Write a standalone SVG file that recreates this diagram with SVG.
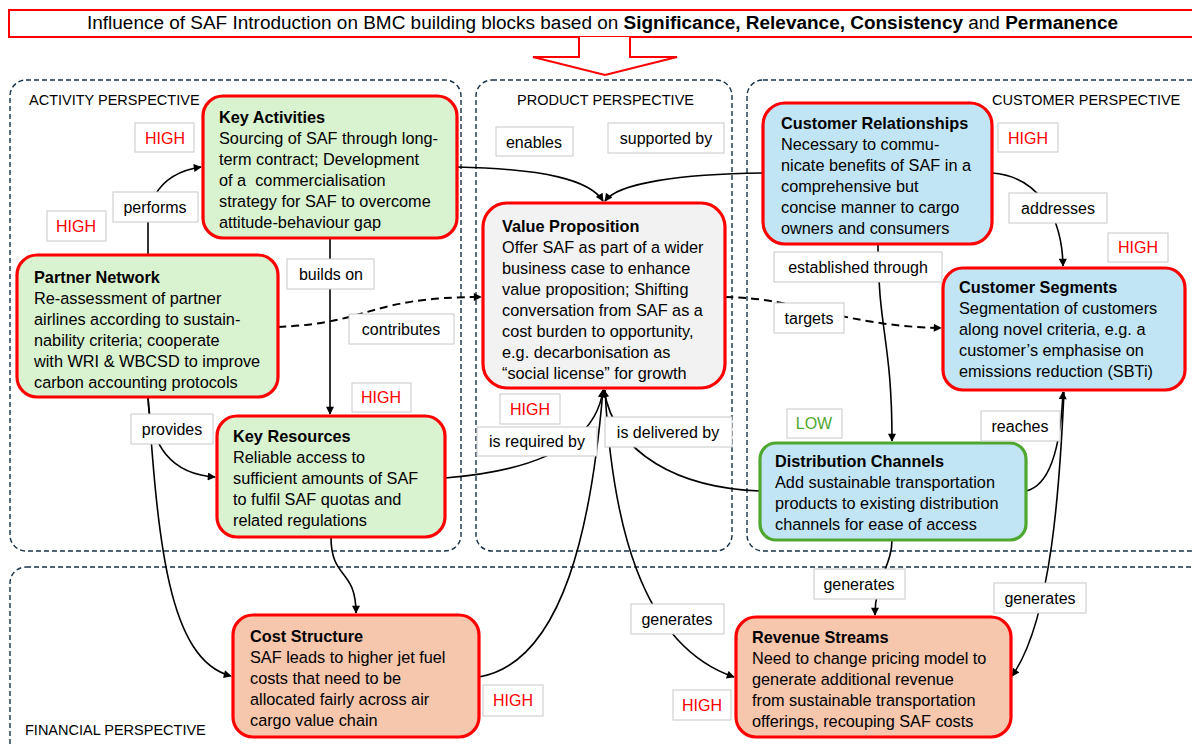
<svg xmlns="http://www.w3.org/2000/svg" width="1192" height="747" viewBox="0 0 1192 747">
<defs>
<marker id="ah" viewBox="0 0 10 10" refX="9" refY="5" markerWidth="9" markerHeight="8" markerUnits="userSpaceOnUse" orient="auto"><path d="M0,0 L10,5 L0,10 z" fill="#000"/></marker>
<style>
.persp{fill:none;stroke:#17324a;stroke-width:1.4;stroke-dasharray:5,3}
.ptxt{font-family:"Liberation Sans",Arial,sans-serif;font-size:14.5px;fill:#000}
.node{stroke:#ff0000;stroke-width:3.2}
.green{fill:#d9f2d0}
.blue{fill:#c1e5f5}
.gray{fill:#f2f2f2}
.orange{fill:#f6c6ad}
.ntxt{font-family:"Liberation Sans",Arial,sans-serif;font-size:16.3px;fill:#000}
.ntxt .t{font-weight:bold}
.conn{fill:none;stroke:#000;stroke-width:1.6;marker-end:url(#ah)}
.plain{fill:none;stroke:#000;stroke-width:1.6}
.dash{stroke-dasharray:8,5;stroke-width:2}
.lbl rect{fill:#fff;stroke:#c8c8c8;stroke-width:1}
.lbl text{font-family:"Liberation Sans",Arial,sans-serif;font-size:16px;fill:#000;text-anchor:middle}
.lbl text.hi{fill:#ff0000}
.lbl text.lo{fill:#4ea72e}
</style>
</defs>
<rect width="1192" height="747" fill="#fff"/>

<g id="title">
<rect x="9" y="10" width="1200" height="27" fill="#fff" stroke="#ff0000" stroke-width="2"/>
<path d="M579,37 L579,57 L533,57 L605,75 L677,57 L630,57 L630,37" fill="#fff" stroke="#ff0000" stroke-width="2"/>
<text x="87" y="29" font-family="'Liberation Sans',Arial,sans-serif" font-size="18" textLength="1031" lengthAdjust="spacingAndGlyphs">Influence of SAF Introduction on BMC building blocks based on <tspan font-weight="bold">Significance, Relevance, Consistency</tspan> and <tspan font-weight="bold">Permanence</tspan></text>
</g>

<g id="perspectives">
<rect class="persp" x="10" y="80" width="451" height="471" rx="16"/>
<rect class="persp" x="476" y="80" width="256" height="471" rx="16"/>
<rect class="persp" x="747" y="80" width="470" height="471" rx="16"/>
<rect class="persp" x="10" y="567" width="1207" height="200" rx="16"/>
<text class="ptxt" x="29" y="105">ACTIVITY PERSPECTIVE</text>
<text class="ptxt" x="517" y="105">PRODUCT PERSPECTIVE</text>
<text class="ptxt" x="992" y="105">CUSTOMER PERSPECTIVE</text>
<text class="ptxt" x="25" y="735">FINANCIAL PERSPECTIVE</text>
</g>

<g id="connectors">
<path class="plain" d="M148,255 L148,222"/>
<path class="conn" d="M155,195 C165,178 180,170 201,167"/>
<path class="plain" d="M155,222 C155,210 155,200 155,195"/>
<path class="conn" d="M330,238 L330,414"/>
<path class="conn dash" d="M278,327 C372,323 368,297 481,297"/>
<path class="conn" d="M148,397 C150,445 170,474 215,477"/>
<path class="conn" d="M148,397 C158,540 168,660 231,676"/>
<path class="conn" d="M457,167 C545,169 590,180 603,201"/>
<path class="conn" d="M763,173 C680,174 618,183 605,201"/>
<path class="conn" d="M445,478 C545,470 596,440 603,390"/>
<path class="conn" d="M479,677 C565,662 592,520 603,390"/>
<path class="conn" d="M760,491 C680,488 615,455 604,390"/>
<path class="conn" d="M605,390 C612,520 640,645 734,677"/>
<path class="conn" d="M878,244 C878,330 892,340 892,441"/>
<path class="conn dash" d="M725,297 C800,298 842,326 941,328"/>
<path class="conn" d="M992,173 C1035,176 1062,212 1063,266"/>
<path class="conn" d="M1026,491 C1052,485 1061,440 1063,392"/>
<path class="conn" d="M1064,392 C1060,480 1052,620 1012,676"/>
<path class="conn" d="M892,540 C892,565 875,580 875,615"/>
<path class="conn" d="M331,537 C331,580 356,568 356,613"/>
</g>

<g id="key-activities">
<rect class="node green" x="203" y="96" width="254" height="142" rx="20"/>
<text class="ntxt" x="219" y="123"><tspan class="t">Key Activities</tspan><tspan x="219" dy="21">Sourcing of SAF through long-</tspan><tspan x="219" dy="21">term contract; Development</tspan><tspan x="219" dy="21">of a&#160; commercialisation</tspan><tspan x="219" dy="21">strategy for SAF to overcome</tspan><tspan x="219" dy="21">attitude-behaviour gap</tspan></text>
</g>

<g id="partner-network">
<rect class="node green" x="17" y="255" width="261" height="142" rx="20"/>
<text class="ntxt" x="34" y="283"><tspan class="t">Partner Network</tspan><tspan x="34" dy="21">Re-assessment of partner</tspan><tspan x="34" dy="21">airlines according to sustain-</tspan><tspan x="34" dy="21">nability criteria; cooperate</tspan><tspan x="34" dy="21">with WRI &amp; WBCSD to improve</tspan><tspan x="34" dy="21">carbon accounting protocols</tspan></text>
</g>

<g id="key-resources">
<rect class="node green" x="217" y="416" width="228" height="121" rx="20"/>
<text class="ntxt" x="233" y="442"><tspan class="t">Key Resources</tspan><tspan x="233" dy="21">Reliable access to</tspan><tspan x="233" dy="21">sufficient amounts of SAF</tspan><tspan x="233" dy="21">to fulfil SAF quotas and</tspan><tspan x="233" dy="21">related regulations</tspan></text>
</g>

<g id="value-proposition">
<rect class="node gray" x="483" y="203" width="242" height="185" rx="24"/>
<text class="ntxt" x="502" y="232"><tspan class="t">Value Proposition</tspan><tspan x="502" dy="21">Offer SAF as part of a wider</tspan><tspan x="502" dy="21">business case to enhance</tspan><tspan x="502" dy="21">value proposition; Shifting</tspan><tspan x="502" dy="21">conversation from SAF as a</tspan><tspan x="502" dy="21">cost burden to opportunity,</tspan><tspan x="502" dy="21">e.g. decarbonisation as</tspan><tspan x="502" dy="21">“social license” for growth</tspan></text>
</g>

<g id="customer-relationships">
<rect class="node blue" x="763" y="103" width="229" height="141" rx="22"/>
<text class="ntxt" x="781" y="129"><tspan class="t">Customer Relationships</tspan><tspan x="781" dy="21">Necessary to commu-</tspan><tspan x="781" dy="21">nicate benefits of SAF in a</tspan><tspan x="781" dy="21">comprehensive but</tspan><tspan x="781" dy="21">concise manner to cargo</tspan><tspan x="781" dy="21">owners and consumers</tspan></text>
</g>

<g id="customer-segments">
<rect class="node blue" x="943" y="268" width="242" height="122" rx="20"/>
<text class="ntxt" x="959" y="293"><tspan class="t">Customer Segments</tspan><tspan x="959" dy="21">Segmentation of customers</tspan><tspan x="959" dy="21">along novel criteria, e.g. a</tspan><tspan x="959" dy="21">customer’s emphasise on</tspan><tspan x="959" dy="21">emissions reduction (SBTi)</tspan></text>
</g>

<g id="distribution-channels">
<rect class="blue" x="760" y="443" width="266" height="97" rx="16" stroke="#4ea72e" stroke-width="3.2"/>
<text class="ntxt" x="775" y="467"><tspan class="t">Distribution Channels</tspan><tspan x="775" dy="21">Add sustainable transportation</tspan><tspan x="775" dy="21">products to existing distribution</tspan><tspan x="775" dy="21">channels for ease of access</tspan></text>
</g>

<g id="cost-structure">
<rect class="node orange" x="233" y="615" width="246" height="122" rx="20"/>
<text class="ntxt" x="250" y="642"><tspan class="t">Cost Structure</tspan><tspan x="250" dy="21">SAF leads to higher jet fuel</tspan><tspan x="250" dy="21">costs that need to be</tspan><tspan x="250" dy="21">allocated fairly across air</tspan><tspan x="250" dy="21">cargo value chain</tspan></text>
</g>

<g id="revenue-streams">
<rect class="node orange" x="736" y="617" width="275" height="120" rx="20"/>
<text class="ntxt" x="752" y="643"><tspan class="t">Revenue Streams</tspan><tspan x="752" dy="21">Need to change pricing model to</tspan><tspan x="752" dy="21">generate additional revenue</tspan><tspan x="752" dy="21">from sustainable transportation</tspan><tspan x="752" dy="21">offerings, recouping SAF costs</tspan></text>
</g>

<g id="labels" class="lbl">
<rect x="135" y="123" width="59" height="29"/><text class="hi" x="165" y="144">HIGH</text>
<rect x="113" y="192" width="85" height="30"/><text x="155" y="213">performs</text>
<rect x="47" y="211" width="59" height="30"/><text class="hi" x="76" y="232">HIGH</text>
<rect x="287" y="259" width="87" height="30"/><text x="331" y="280">builds on</text>
<rect x="349" y="314" width="105" height="30"/><text x="401" y="335">contributes</text>
<rect x="352" y="383" width="59" height="29"/><text class="hi" x="381" y="403">HIGH</text>
<rect x="131" y="414" width="82" height="30"/><text x="172" y="435">provides</text>
<rect x="496" y="127" width="77" height="29"/><text x="534" y="148">enables</text>
<rect x="608" y="123" width="116" height="30"/><text x="666" y="144">supported by</text>
<rect x="500" y="394" width="60" height="30"/><text class="hi" x="530" y="415">HIGH</text>
<rect x="477" y="427" width="120" height="29"/><text x="537" y="447">is required by</text>
<rect x="605" y="417" width="127" height="30"/><text x="668" y="438">is delivered by</text>
<rect x="787" y="409" width="55" height="29"/><text class="lo" x="814" y="429">LOW</text>
<rect x="981" y="411" width="79" height="30"/><text x="1020" y="432">reaches</text>
<rect x="998" y="123" width="60" height="29"/><text class="hi" x="1028" y="144">HIGH</text>
<rect x="1009" y="193" width="98" height="30"/><text x="1058" y="214">addresses</text>
<rect x="1108" y="233" width="60" height="29"/><text class="hi" x="1138" y="253">HIGH</text>
<rect x="774" y="252" width="168" height="30"/><text x="858" y="273">established through</text>
<rect x="774" y="303" width="70" height="30"/><text x="809" y="324">targets</text>
<rect x="814" y="569" width="91" height="30"/><text x="859" y="590">generates</text>
<rect x="994" y="583" width="92" height="30"/><text x="1040" y="604">generates</text>
<rect x="631" y="604" width="93" height="30"/><text x="677" y="625">generates</text>
<rect x="673" y="690" width="58" height="30"/><text class="hi" x="702" y="711">HIGH</text>
<rect x="483" y="685" width="60" height="31"/><text class="hi" x="513" y="706">HIGH</text>
</g>
</svg>
